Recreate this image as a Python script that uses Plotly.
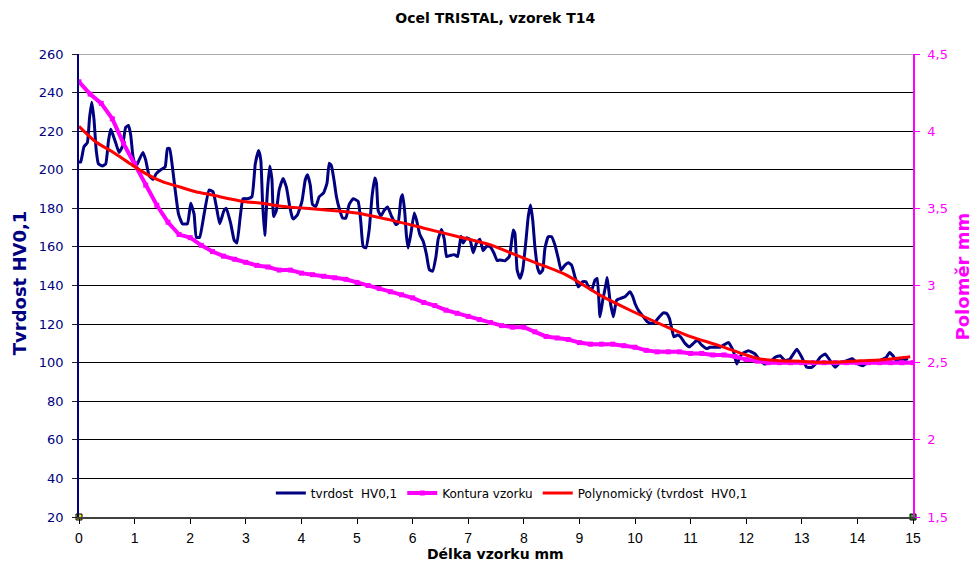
import plotly.graph_objects as go

# Hardness profile along the sample (mm, HV0,1)
dist_mm = [0.0, 0.03, 0.09, 0.15, 0.19, 0.23, 0.27, 0.31, 0.35, 0.42, 0.48, 0.53, 0.57, 0.60, 0.66,
           0.72, 0.78, 0.84, 0.89, 0.93, 0.97, 1.02, 1.08, 1.15, 1.20, 1.26, 1.33, 1.39, 1.47, 1.55,
           1.59, 1.63, 1.68, 1.73, 1.79, 1.86, 1.95, 2.01, 2.07, 2.11, 2.17, 2.25, 2.34, 2.41, 2.47,
           2.53, 2.61, 2.65, 2.73, 2.79, 2.84, 2.90, 2.95, 3.03, 3.11, 3.17, 3.23, 3.27, 3.30, 3.34,
           3.39, 3.43, 3.47, 3.50, 3.55, 3.60, 3.67, 3.73, 3.79, 3.84, 3.86, 3.93, 4.01, 4.07, 4.11,
           4.16, 4.20, 4.26, 4.32, 4.40, 4.46, 4.50, 4.54, 4.59, 4.63, 4.69, 4.74, 4.80, 4.86, 4.93,
           5.02, 5.07, 5.11, 5.16, 5.22, 5.27, 5.32, 5.35, 5.38, 5.43, 5.49, 5.55, 5.62, 5.70, 5.74,
           5.79, 5.82, 5.86, 5.89, 5.92, 5.97, 6.03, 6.07, 6.13, 6.19, 6.25, 6.30, 6.36, 6.42, 6.46,
           6.52, 6.57, 6.61, 6.67, 6.75, 6.81, 6.87, 6.91, 6.97, 7.03, 7.09, 7.15, 7.21, 7.27, 7.33,
           7.39, 7.46, 7.52, 7.57, 7.66, 7.74, 7.81, 7.84, 7.88, 7.93, 7.98, 8.04, 8.08, 8.12, 8.16,
           8.20, 8.25, 8.29, 8.34, 8.38, 8.44, 8.50, 8.56, 8.62, 8.67, 8.74, 8.80, 8.86, 8.92, 8.98,
           9.06, 9.12, 9.16, 9.22, 9.28, 9.32, 9.37, 9.42, 9.48, 9.50, 9.55, 9.61, 9.67, 9.74, 9.82,
           9.91, 9.96, 10.00, 10.06, 10.15, 10.22, 10.30, 10.36, 10.44, 10.51, 10.57, 10.62, 10.66,
           10.70, 10.76, 10.82, 10.90, 10.98, 11.05, 11.12, 11.20, 11.29, 11.35, 11.53, 11.68, 11.77,
           11.83, 11.92, 12.04, 12.16, 12.25, 12.34, 12.43, 12.52, 12.61, 12.70, 12.79, 12.91, 13.00,
           13.09, 13.18, 13.27, 13.33, 13.42, 13.51, 13.60, 13.69, 13.81, 13.91, 14.01, 14.10, 14.19,
           14.28, 14.40, 14.52, 14.58, 14.64, 14.70, 14.82, 14.91]
hardness = [204, 204, 212, 214, 227, 235, 226, 210, 203, 202, 203, 215, 221, 219, 214,
            209, 212, 222, 223, 218, 207, 201.5, 205, 209, 205, 197, 195, 198, 200, 201.5,
            211, 211, 201.5, 189.5, 177, 172, 172, 182.6, 177, 165, 165, 177, 189.5, 188.6, 181,
            172, 179, 180, 172, 163.6, 162, 175.7, 185, 185, 186, 203, 210, 205, 184, 166,
            189.5, 202, 195, 175.7, 179, 189.5, 195.5, 191, 181, 175, 174.5, 176.7, 183.6, 194.8, 197.4,
            192, 182, 181, 186, 188, 193, 203.4, 202, 194, 186, 179, 175, 175, 182, 185,
            183.6, 172.4, 160.3, 159.5, 169, 186, 195.7, 193, 179, 176, 179, 180.7, 176, 171.6, 172.4,
            185, 187, 177.6, 165.5, 159.5, 167, 177.6, 174, 166.4, 163, 156, 148.3, 147.4, 155, 164,
            169, 164, 155, 155.5, 156, 155, 165.5, 162, 164.7, 164, 157, 162, 164, 158, 160.3,
            160.3, 157, 153, 153.2, 152.8, 155, 168.8, 167, 148, 143.7, 148, 163.6, 175.7, 181.7, 174,
            160, 148.9, 146.3, 148, 159.2, 165.3, 165.3, 161, 154, 148, 150.6, 151.8, 150.6, 144.5, 139.3,
            142, 142, 139.3, 137.6, 142.8, 143.7, 123.8, 132.4, 141, 144.2, 132.4, 123.8, 132.4, 133.3, 134.2,
            136.8, 134.2, 130.7, 127.2, 123.8, 121.2, 120.3, 121.2, 123.8, 125.8, 125.5, 122.9, 117.7,
            113.4, 114.3, 113.4, 110, 108.2, 110, 111.7, 109.1, 107.3, 108, 108, 110.5, 106,
            99.3, 104.5, 106.2, 104.5, 101, 99.3, 100.2, 102.8, 103.6, 101, 102, 107, 102.8,
            97.6, 97.6, 100.2, 102.8, 104.5, 101, 97.6, 100.2, 101, 102, 99.3, 98.4, 100.2,
            101, 101, 102.8, 105.3, 103.6, 101, 101.4, 102]

# Sample contour radius (mm) along the sample
contour_mm = [0.0, 0.2, 0.4, 0.6, 0.8, 1.0, 1.2, 1.4, 1.6, 1.8, 2.0, 2.2, 2.4, 2.6, 2.8, 3.0,
              3.2, 3.4, 3.6, 3.8, 4.0, 4.2, 4.4, 4.6, 4.8, 5.0, 5.2, 5.4, 5.6, 5.8, 6.0, 6.2,
              6.4, 6.6, 6.8, 7.0, 7.2, 7.4, 7.6, 7.8, 8.0, 8.2, 8.4, 8.6, 8.8, 9.0, 9.2, 9.4,
              9.6, 9.8, 10.0, 10.2, 10.4, 10.6, 10.8, 11.0, 11.2, 11.4, 11.6, 11.8, 12.0, 12.2,
              12.4, 12.6, 12.8, 13.0, 13.2, 13.4, 13.6, 13.8, 14.0, 14.2, 14.4, 14.6, 14.8, 15.0]
radius = [4.32, 4.24, 4.18, 4.08, 3.92, 3.79, 3.65, 3.52, 3.41, 3.33, 3.31, 3.26, 3.22, 3.19, 3.17, 3.15,
          3.13, 3.12, 3.10, 3.10, 3.08, 3.07, 3.06, 3.05, 3.04, 3.02, 3.00, 2.98, 2.96, 2.94, 2.92, 2.89,
          2.87, 2.84, 2.82, 2.80, 2.78, 2.76, 2.74, 2.73, 2.73, 2.70, 2.67, 2.66, 2.65, 2.63, 2.62, 2.62,
          2.62, 2.61, 2.60, 2.58, 2.57, 2.57, 2.57, 2.56, 2.56, 2.55, 2.55, 2.54, 2.52, 2.51,
          2.50, 2.50, 2.50, 2.50, 2.50, 2.50, 2.50, 2.50, 2.50, 2.50, 2.50, 2.50, 2.50, 2.50]

# Polynomial trend of the hardness
trend_mm = [0.0, 0.3, 0.6, 0.96, 1.2, 1.5, 1.8, 2.1, 2.4, 2.7, 3.0, 3.3, 3.6, 3.84, 4.39, 4.99,
            5.59, 6.19, 6.79, 7.39, 7.6, 8.17, 8.77, 9.37, 9.97, 10.57, 11.0, 11.5, 12.0, 12.25,
            12.61, 12.97, 13.33, 13.69, 14.05, 14.4, 14.76, 14.95]
trend = [222.5, 214.5, 209.3, 202.4, 198.0, 193.8, 191.2, 188.6, 186.9, 185.0, 183.4, 182.6, 181.2,
         180.5, 179.3, 177.6, 174.0, 169.8, 165.5, 161.2, 158.8, 152.3, 145.4, 135.0, 126.4, 118.6,
         113.5, 109.0, 104.0, 101.9, 101.0, 100.7, 100.2, 100.3, 101.0, 101.4, 102.4, 103.1]

x_ticks = list(range(0, 16))
NAVY = "#000080"
MAGENTA = "#ff00ff"

fig = go.Figure()
fig.add_trace(go.Scatter(
    x=dist_mm, y=hardness, name="tvrdost  HV0,1", mode="lines",
    line=dict(color=NAVY, width=3, shape="spline", smoothing=0.4), yaxis="y"))
fig.add_trace(go.Scatter(
    x=contour_mm, y=radius, name="Kontura vzorku", mode="lines+markers",
    line=dict(color=MAGENTA, width=4),
    marker=dict(symbol="square", size=5, color=MAGENTA), yaxis="y2"))
fig.add_trace(go.Scatter(
    x=trend_mm, y=trend, name="Polynomický (tvrdost  HV0,1", mode="lines",
    line=dict(color="#ff0000", width=3, shape="spline", smoothing=0.8), yaxis="y3"))
# corner markers on the axis baseline
fig.add_trace(go.Scatter(
    x=[0, 15], y=[20, 20], mode="markers", showlegend=False, hoverinfo="skip",
    marker=dict(symbol="square", size=6, color=["#e8e800", "#00c000"],
                line=dict(color="#000000", width=1)),
    cliponaxis=False, yaxis="y3"))

tick_font = dict(family="DejaVu Sans", size=13)
fig.update_layout(
    width=973, height=563, autosize=False,
    margin=dict(l=79, r=60, t=54, b=46),
    paper_bgcolor="white", plot_bgcolor="white",
    separators=", ",
    title=dict(text="<b>Ocel TRISTAL, vzorek T14</b>", x=0.509, xref="container",
               xanchor="center", y=1 - 18 / 563, yanchor="middle",
               font=dict(family="DejaVu Sans", size=14, color="#000000")),
    xaxis=dict(range=[0, 15], tickvals=x_ticks, showgrid=False, zeroline=False,
               showline=True, linecolor="#404040", linewidth=1.5,
               ticks="outside", ticklen=5, tickcolor="#000000", ticklabelstandoff=2,
               tickfont=dict(family="Liberation Sans Narrow, Liberation Sans", size=14, color="#000000")),
    yaxis=dict(range=[20, 260], dtick=20, showgrid=True, gridcolor="#000000", gridwidth=1,
               zeroline=False, showline=True, linecolor=NAVY, linewidth=1.5,
               ticks="outside", ticklen=5, tickcolor="#202020", ticklabelstandoff=6,
               tickfont=dict(tick_font, color=NAVY)),
    yaxis2=dict(range=[1.5, 4.5], dtick=0.5, overlaying="y", side="right", showgrid=False,
                zeroline=False, showline=True, linecolor=MAGENTA, linewidth=1.5,
                ticks="outside", ticklen=5, tickcolor=MAGENTA, ticklabelstandoff=5,
                tickfont=dict(tick_font, color=MAGENTA)),
    yaxis3=dict(range=[20, 260], overlaying="y", visible=False),
    legend=dict(orientation="h", x=0.519, xanchor="center", y=0.052, yanchor="middle",
                bgcolor="rgba(0,0,0,0)", font=dict(family="DejaVu Sans", size=12, color="#000000"),
                itemwidth=30, tracegroupgap=0),
    shapes=[dict(type="line", xref="paper", x0=0, x1=1, yref="y", y0=260, y1=260,
                 line=dict(color="#909090", width=1.5), layer="between")],
    annotations=[
        dict(text="<b>Tvrdost HV0,1</b>", xref="paper", yref="paper", x=-0.0713, y=0.506,
             textangle=-90, showarrow=False, xanchor="center", yanchor="middle",
             font=dict(family="DejaVu Sans", size=18, color=NAVY)),
        dict(text="<b>Poloměr mm</b>", xref="paper", yref="paper", x=1.059, y=0.52,
             textangle=-90, showarrow=False, xanchor="center", yanchor="middle",
             font=dict(family="DejaVu Sans", size=18, color=MAGENTA)),
        dict(text="<b>Délka vzorku mm</b>", xref="paper", yref="paper", x=0.499, y=-0.0795,
             showarrow=False, xanchor="center", yanchor="middle",
             font=dict(family="DejaVu Sans", size=14, color="#000000")),
    ],
)

fig.write_html("out.html")
